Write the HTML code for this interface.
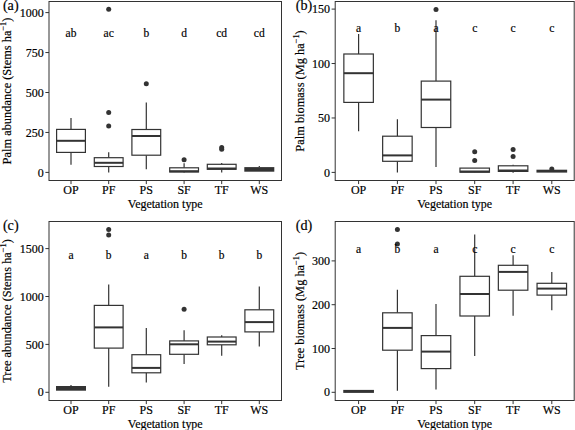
<!DOCTYPE html><html><head><meta charset="utf-8"><style>html,body{margin:0;padding:0;background:#fff;overflow:hidden;}svg{display:block;}text{font-family:"Liberation Serif",serif;fill:#000;stroke:#000;stroke-width:0.18px;}</style></head><body>
<svg width="575" height="430" viewBox="0 0 575 430">
<rect width="575" height="430" fill="#fff"/>
<line x1="71.0" y1="118.0" x2="71.0" y2="129.4" stroke="#333333" stroke-width="1.2"/>
<line x1="71.0" y1="152.4" x2="71.0" y2="164.8" stroke="#333333" stroke-width="1.2"/>
<rect x="56.60" y="129.4" width="28.80" height="23.00" fill="#fff" stroke="#333333" stroke-width="1.2"/>
<line x1="56.60" y1="140.8" x2="85.40" y2="140.8" stroke="#333333" stroke-width="2.0"/>
<line x1="108.7" y1="152.3" x2="108.7" y2="157.7" stroke="#333333" stroke-width="1.2"/>
<line x1="108.7" y1="166.5" x2="108.7" y2="172.4" stroke="#333333" stroke-width="1.2"/>
<rect x="94.30" y="157.7" width="28.80" height="8.80" fill="#fff" stroke="#333333" stroke-width="1.2"/>
<line x1="94.30" y1="162.8" x2="123.10" y2="162.8" stroke="#333333" stroke-width="2.0"/>
<circle cx="108.7" cy="126.1" r="2.5" fill="#333333"/>
<circle cx="108.7" cy="112.5" r="2.5" fill="#333333"/>
<circle cx="108.7" cy="9.2" r="2.5" fill="#333333"/>
<line x1="146.3" y1="102.4" x2="146.3" y2="129.5" stroke="#333333" stroke-width="1.2"/>
<line x1="146.3" y1="155.2" x2="146.3" y2="169.3" stroke="#333333" stroke-width="1.2"/>
<rect x="131.90" y="129.5" width="28.80" height="25.70" fill="#fff" stroke="#333333" stroke-width="1.2"/>
<line x1="131.90" y1="136.0" x2="160.70" y2="136.0" stroke="#333333" stroke-width="2.0"/>
<circle cx="146.3" cy="83.7" r="2.5" fill="#333333"/>
<line x1="184.1" y1="163.2" x2="184.1" y2="167.8" stroke="#333333" stroke-width="1.2"/>
<line x1="184.1" y1="172.0" x2="184.1" y2="172.4" stroke="#333333" stroke-width="1.2"/>
<rect x="169.70" y="167.8" width="28.80" height="4.20" fill="#fff" stroke="#333333" stroke-width="1.2"/>
<line x1="169.70" y1="171.2" x2="198.50" y2="171.2" stroke="#333333" stroke-width="2.0"/>
<circle cx="184.1" cy="159.7" r="2.5" fill="#333333"/>
<line x1="221.7" y1="162.9" x2="221.7" y2="164.3" stroke="#333333" stroke-width="1.2"/>
<line x1="221.7" y1="169.3" x2="221.7" y2="172.5" stroke="#333333" stroke-width="1.2"/>
<rect x="207.30" y="164.3" width="28.80" height="5.00" fill="#fff" stroke="#333333" stroke-width="1.2"/>
<line x1="207.30" y1="168.5" x2="236.10" y2="168.5" stroke="#333333" stroke-width="2.0"/>
<circle cx="221.7" cy="147.4" r="2.5" fill="#333333"/>
<circle cx="221.7" cy="149.2" r="2.5" fill="#333333"/>
<line x1="259.3" y1="165.9" x2="259.3" y2="167.1" stroke="#333333" stroke-width="1.2"/>
<rect x="244.30" y="167.1" width="30.00" height="4.60" fill="#333333"/>
<text x="71.0" y="36.9" font-size="11.5" text-anchor="middle">ab</text>
<text x="108.7" y="36.9" font-size="11.5" text-anchor="middle">ac</text>
<text x="146.3" y="36.9" font-size="11.5" text-anchor="middle">b</text>
<text x="184.1" y="36.9" font-size="11.5" text-anchor="middle">d</text>
<text x="221.7" y="36.9" font-size="11.5" text-anchor="middle">cd</text>
<text x="259.3" y="36.9" font-size="11.5" text-anchor="middle">cd</text>
<rect x="49" y="1.5" width="232.50" height="179.00" fill="none" stroke="#333333" stroke-width="1"/>
<line x1="45.4" y1="172.4" x2="49" y2="172.4" stroke="#333333" stroke-width="1"/>
<text x="43.8" y="176.5" font-size="12" text-anchor="end">0</text>
<line x1="45.4" y1="132.45" x2="49" y2="132.45" stroke="#333333" stroke-width="1"/>
<text x="43.8" y="136.54999999999998" font-size="12" text-anchor="end">250</text>
<line x1="45.4" y1="92.5" x2="49" y2="92.5" stroke="#333333" stroke-width="1"/>
<text x="43.8" y="96.6" font-size="12" text-anchor="end">500</text>
<line x1="45.4" y1="52.55" x2="49" y2="52.55" stroke="#333333" stroke-width="1"/>
<text x="43.8" y="56.65" font-size="12" text-anchor="end">750</text>
<line x1="45.4" y1="12.6" x2="49" y2="12.6" stroke="#333333" stroke-width="1"/>
<text x="43.8" y="16.7" font-size="12" text-anchor="end">1000</text>
<line x1="71.0" y1="180.5" x2="71.0" y2="184.1" stroke="#333333" stroke-width="1"/>
<text x="71.0" y="194.4" font-size="12" text-anchor="middle">OP</text>
<line x1="108.7" y1="180.5" x2="108.7" y2="184.1" stroke="#333333" stroke-width="1"/>
<text x="108.7" y="194.4" font-size="12" text-anchor="middle">PF</text>
<line x1="146.3" y1="180.5" x2="146.3" y2="184.1" stroke="#333333" stroke-width="1"/>
<text x="146.3" y="194.4" font-size="12" text-anchor="middle">PS</text>
<line x1="184.1" y1="180.5" x2="184.1" y2="184.1" stroke="#333333" stroke-width="1"/>
<text x="184.1" y="194.4" font-size="12" text-anchor="middle">SF</text>
<line x1="221.7" y1="180.5" x2="221.7" y2="184.1" stroke="#333333" stroke-width="1"/>
<text x="221.7" y="194.4" font-size="12" text-anchor="middle">TF</text>
<line x1="259.3" y1="180.5" x2="259.3" y2="184.1" stroke="#333333" stroke-width="1"/>
<text x="259.3" y="194.4" font-size="12" text-anchor="middle">WS</text>
<text transform="translate(165.25,207.50) scale(1,1.08)" font-size="12" text-anchor="middle">Vegetation type</text>
<text transform="translate(11.0,91.00) rotate(-90)" font-size="12.4" text-anchor="middle">Palm abundance (Stems ha<tspan font-size="8.3" dy="-5.5">−1</tspan><tspan dy="5.5">)</tspan></text>
<text x="2.9" y="9.8" font-size="14.2">(a)</text>
<line x1="358.6" y1="34.1" x2="358.6" y2="54.0" stroke="#333333" stroke-width="1.2"/>
<line x1="358.6" y1="102.4" x2="358.6" y2="131.2" stroke="#333333" stroke-width="1.2"/>
<rect x="343.85" y="54.0" width="29.50" height="48.40" fill="#fff" stroke="#333333" stroke-width="1.2"/>
<line x1="343.85" y1="73.2" x2="373.35" y2="73.2" stroke="#333333" stroke-width="2.0"/>
<line x1="397.4" y1="119.2" x2="397.4" y2="136.2" stroke="#333333" stroke-width="1.2"/>
<line x1="397.4" y1="161.3" x2="397.4" y2="172.5" stroke="#333333" stroke-width="1.2"/>
<rect x="382.65" y="136.2" width="29.50" height="25.10" fill="#fff" stroke="#333333" stroke-width="1.2"/>
<line x1="382.65" y1="155.4" x2="412.15" y2="155.4" stroke="#333333" stroke-width="2.0"/>
<line x1="436.0" y1="20.3" x2="436.0" y2="81.1" stroke="#333333" stroke-width="1.2"/>
<line x1="436.0" y1="127.5" x2="436.0" y2="166.9" stroke="#333333" stroke-width="1.2"/>
<rect x="421.25" y="81.1" width="29.50" height="46.40" fill="#fff" stroke="#333333" stroke-width="1.2"/>
<line x1="421.25" y1="99.6" x2="450.75" y2="99.6" stroke="#333333" stroke-width="2.0"/>
<circle cx="436.0" cy="9.4" r="2.5" fill="#333333"/>
<line x1="474.7" y1="168.1" x2="474.7" y2="168.1" stroke="#333333" stroke-width="1.2"/>
<line x1="474.7" y1="172.2" x2="474.7" y2="172.4" stroke="#333333" stroke-width="1.2"/>
<rect x="459.95" y="168.1" width="29.50" height="4.10" fill="#fff" stroke="#333333" stroke-width="1.2"/>
<line x1="459.95" y1="171.5" x2="489.45" y2="171.5" stroke="#333333" stroke-width="2.0"/>
<circle cx="474.7" cy="151.8" r="2.5" fill="#333333"/>
<circle cx="474.7" cy="160.6" r="2.5" fill="#333333"/>
<line x1="513.1" y1="164.8" x2="513.1" y2="165.8" stroke="#333333" stroke-width="1.2"/>
<line x1="513.1" y1="171.4" x2="513.1" y2="172.7" stroke="#333333" stroke-width="1.2"/>
<rect x="498.35" y="165.8" width="29.50" height="5.60" fill="#fff" stroke="#333333" stroke-width="1.2"/>
<line x1="498.35" y1="170.5" x2="527.85" y2="170.5" stroke="#333333" stroke-width="2.0"/>
<circle cx="513.1" cy="149.5" r="2.5" fill="#333333"/>
<circle cx="513.1" cy="156.4" r="2.5" fill="#333333"/>
<line x1="551.8" y1="169.7" x2="551.8" y2="169.7" stroke="#333333" stroke-width="1.2"/>
<rect x="536.45" y="169.7" width="30.70" height="2.90" fill="#333333"/>
<circle cx="551.8" cy="168.9" r="2.5" fill="#333333"/>
<text x="358.6" y="31.7" font-size="11.5" text-anchor="middle">a</text>
<text x="397.4" y="31.7" font-size="11.5" text-anchor="middle">b</text>
<text x="436.0" y="31.7" font-size="11.5" text-anchor="middle">a</text>
<text x="474.7" y="31.7" font-size="11.5" text-anchor="middle">c</text>
<text x="513.1" y="31.7" font-size="11.5" text-anchor="middle">c</text>
<text x="551.8" y="31.7" font-size="11.5" text-anchor="middle">c</text>
<rect x="335.2" y="1.5" width="239.00" height="179.00" fill="none" stroke="#333333" stroke-width="1"/>
<line x1="331.59999999999997" y1="172.4" x2="335.2" y2="172.4" stroke="#333333" stroke-width="1"/>
<text x="330.0" y="176.5" font-size="12" text-anchor="end">0</text>
<line x1="331.59999999999997" y1="117.97" x2="335.2" y2="117.97" stroke="#333333" stroke-width="1"/>
<text x="330.0" y="122.07" font-size="12" text-anchor="end">50</text>
<line x1="331.59999999999997" y1="63.53" x2="335.2" y2="63.53" stroke="#333333" stroke-width="1"/>
<text x="330.0" y="67.63" font-size="12" text-anchor="end">100</text>
<line x1="331.59999999999997" y1="9.1" x2="335.2" y2="9.1" stroke="#333333" stroke-width="1"/>
<text x="330.0" y="13.2" font-size="12" text-anchor="end">150</text>
<line x1="358.6" y1="180.5" x2="358.6" y2="184.1" stroke="#333333" stroke-width="1"/>
<text x="358.6" y="194.4" font-size="12" text-anchor="middle">OP</text>
<line x1="397.4" y1="180.5" x2="397.4" y2="184.1" stroke="#333333" stroke-width="1"/>
<text x="397.4" y="194.4" font-size="12" text-anchor="middle">PF</text>
<line x1="436.0" y1="180.5" x2="436.0" y2="184.1" stroke="#333333" stroke-width="1"/>
<text x="436.0" y="194.4" font-size="12" text-anchor="middle">PS</text>
<line x1="474.7" y1="180.5" x2="474.7" y2="184.1" stroke="#333333" stroke-width="1"/>
<text x="474.7" y="194.4" font-size="12" text-anchor="middle">SF</text>
<line x1="513.1" y1="180.5" x2="513.1" y2="184.1" stroke="#333333" stroke-width="1"/>
<text x="513.1" y="194.4" font-size="12" text-anchor="middle">TF</text>
<line x1="551.8" y1="180.5" x2="551.8" y2="184.1" stroke="#333333" stroke-width="1"/>
<text x="551.8" y="194.4" font-size="12" text-anchor="middle">WS</text>
<text transform="translate(454.70,207.50) scale(1,1.08)" font-size="12" text-anchor="middle">Vegetation type</text>
<text transform="translate(304.0,91.00) rotate(-90)" font-size="12.4" text-anchor="middle">Palm biomass (Mg ha<tspan font-size="8.3" dy="-5.5">−1</tspan><tspan dy="5.5">)</tspan></text>
<text x="295.8" y="9.8" font-size="14.2">(b)</text>
<line x1="71.0" y1="384.9" x2="71.0" y2="386.0" stroke="#333333" stroke-width="1.2"/>
<rect x="56.00" y="386.0" width="30.00" height="4.70" fill="#333333"/>
<line x1="108.7" y1="284.5" x2="108.7" y2="305.4" stroke="#333333" stroke-width="1.2"/>
<line x1="108.7" y1="348.1" x2="108.7" y2="386.7" stroke="#333333" stroke-width="1.2"/>
<rect x="94.30" y="305.4" width="28.80" height="42.70" fill="#fff" stroke="#333333" stroke-width="1.2"/>
<line x1="94.30" y1="327.4" x2="123.10" y2="327.4" stroke="#333333" stroke-width="2.0"/>
<circle cx="108.7" cy="229.4" r="2.5" fill="#333333"/>
<circle cx="108.7" cy="235.1" r="2.5" fill="#333333"/>
<line x1="146.3" y1="327.9" x2="146.3" y2="354.7" stroke="#333333" stroke-width="1.2"/>
<line x1="146.3" y1="372.8" x2="146.3" y2="382.6" stroke="#333333" stroke-width="1.2"/>
<rect x="131.90" y="354.7" width="28.80" height="18.10" fill="#fff" stroke="#333333" stroke-width="1.2"/>
<line x1="131.90" y1="367.9" x2="160.70" y2="367.9" stroke="#333333" stroke-width="2.0"/>
<line x1="184.1" y1="330.2" x2="184.1" y2="340.9" stroke="#333333" stroke-width="1.2"/>
<line x1="184.1" y1="354.3" x2="184.1" y2="364.0" stroke="#333333" stroke-width="1.2"/>
<rect x="169.70" y="340.9" width="28.80" height="13.40" fill="#fff" stroke="#333333" stroke-width="1.2"/>
<line x1="169.70" y1="344.3" x2="198.50" y2="344.3" stroke="#333333" stroke-width="2.0"/>
<circle cx="184.1" cy="309.3" r="2.5" fill="#333333"/>
<line x1="221.7" y1="335.3" x2="221.7" y2="337.0" stroke="#333333" stroke-width="1.2"/>
<line x1="221.7" y1="344.8" x2="221.7" y2="355.8" stroke="#333333" stroke-width="1.2"/>
<rect x="207.30" y="337.0" width="28.80" height="7.80" fill="#fff" stroke="#333333" stroke-width="1.2"/>
<line x1="207.30" y1="341.6" x2="236.10" y2="341.6" stroke="#333333" stroke-width="2.0"/>
<line x1="259.3" y1="286.6" x2="259.3" y2="309.8" stroke="#333333" stroke-width="1.2"/>
<line x1="259.3" y1="331.9" x2="259.3" y2="346.5" stroke="#333333" stroke-width="1.2"/>
<rect x="244.90" y="309.8" width="28.80" height="22.10" fill="#fff" stroke="#333333" stroke-width="1.2"/>
<line x1="244.90" y1="322.1" x2="273.70" y2="322.1" stroke="#333333" stroke-width="2.0"/>
<text x="71.0" y="259.2" font-size="11.5" text-anchor="middle">a</text>
<text x="108.7" y="259.2" font-size="11.5" text-anchor="middle">b</text>
<text x="146.3" y="259.2" font-size="11.5" text-anchor="middle">a</text>
<text x="184.1" y="259.2" font-size="11.5" text-anchor="middle">b</text>
<text x="221.7" y="259.2" font-size="11.5" text-anchor="middle">b</text>
<text x="259.3" y="259.2" font-size="11.5" text-anchor="middle">b</text>
<rect x="49" y="221.5" width="232.50" height="179.00" fill="none" stroke="#333333" stroke-width="1"/>
<line x1="45.4" y1="392.3" x2="49" y2="392.3" stroke="#333333" stroke-width="1"/>
<text x="43.8" y="396.40000000000003" font-size="12" text-anchor="end">0</text>
<line x1="45.4" y1="344.4" x2="49" y2="344.4" stroke="#333333" stroke-width="1"/>
<text x="43.8" y="348.5" font-size="12" text-anchor="end">500</text>
<line x1="45.4" y1="296.5" x2="49" y2="296.5" stroke="#333333" stroke-width="1"/>
<text x="43.8" y="300.6" font-size="12" text-anchor="end">1000</text>
<line x1="45.4" y1="248.6" x2="49" y2="248.6" stroke="#333333" stroke-width="1"/>
<text x="43.8" y="252.7" font-size="12" text-anchor="end">1500</text>
<line x1="71.0" y1="400.5" x2="71.0" y2="404.1" stroke="#333333" stroke-width="1"/>
<text x="71.0" y="414.4" font-size="12" text-anchor="middle">OP</text>
<line x1="108.7" y1="400.5" x2="108.7" y2="404.1" stroke="#333333" stroke-width="1"/>
<text x="108.7" y="414.4" font-size="12" text-anchor="middle">PF</text>
<line x1="146.3" y1="400.5" x2="146.3" y2="404.1" stroke="#333333" stroke-width="1"/>
<text x="146.3" y="414.4" font-size="12" text-anchor="middle">PS</text>
<line x1="184.1" y1="400.5" x2="184.1" y2="404.1" stroke="#333333" stroke-width="1"/>
<text x="184.1" y="414.4" font-size="12" text-anchor="middle">SF</text>
<line x1="221.7" y1="400.5" x2="221.7" y2="404.1" stroke="#333333" stroke-width="1"/>
<text x="221.7" y="414.4" font-size="12" text-anchor="middle">TF</text>
<line x1="259.3" y1="400.5" x2="259.3" y2="404.1" stroke="#333333" stroke-width="1"/>
<text x="259.3" y="414.4" font-size="12" text-anchor="middle">WS</text>
<text transform="translate(165.25,427.50) scale(1,1.08)" font-size="12" text-anchor="middle">Vegetation type</text>
<text transform="translate(11.0,311.00) rotate(-90)" font-size="12.4" text-anchor="middle">Tree abundance (Stems ha<tspan font-size="8.3" dy="-5.5">−1</tspan><tspan dy="5.5">)</tspan></text>
<text x="2.9" y="230.2" font-size="14.2">(c)</text>
<line x1="358.6" y1="389.9" x2="358.6" y2="389.9" stroke="#333333" stroke-width="1.2"/>
<rect x="343.25" y="389.9" width="30.70" height="3.00" fill="#333333"/>
<line x1="397.4" y1="289.7" x2="397.4" y2="312.8" stroke="#333333" stroke-width="1.2"/>
<line x1="397.4" y1="350.2" x2="397.4" y2="390.7" stroke="#333333" stroke-width="1.2"/>
<rect x="382.65" y="312.8" width="29.50" height="37.40" fill="#fff" stroke="#333333" stroke-width="1.2"/>
<line x1="382.65" y1="327.9" x2="412.15" y2="327.9" stroke="#333333" stroke-width="2.0"/>
<circle cx="397.4" cy="229.4" r="2.5" fill="#333333"/>
<circle cx="397.4" cy="244.1" r="2.5" fill="#333333"/>
<line x1="436.0" y1="304.0" x2="436.0" y2="335.6" stroke="#333333" stroke-width="1.2"/>
<line x1="436.0" y1="368.6" x2="436.0" y2="389.5" stroke="#333333" stroke-width="1.2"/>
<rect x="421.25" y="335.6" width="29.50" height="33.00" fill="#fff" stroke="#333333" stroke-width="1.2"/>
<line x1="421.25" y1="351.6" x2="450.75" y2="351.6" stroke="#333333" stroke-width="2.0"/>
<line x1="474.7" y1="234.4" x2="474.7" y2="276.3" stroke="#333333" stroke-width="1.2"/>
<line x1="474.7" y1="316.0" x2="474.7" y2="355.9" stroke="#333333" stroke-width="1.2"/>
<rect x="459.95" y="276.3" width="29.50" height="39.70" fill="#fff" stroke="#333333" stroke-width="1.2"/>
<line x1="459.95" y1="294.0" x2="489.45" y2="294.0" stroke="#333333" stroke-width="2.0"/>
<line x1="513.1" y1="255.3" x2="513.1" y2="265.3" stroke="#333333" stroke-width="1.2"/>
<line x1="513.1" y1="290.2" x2="513.1" y2="315.8" stroke="#333333" stroke-width="1.2"/>
<rect x="498.35" y="265.3" width="29.50" height="24.90" fill="#fff" stroke="#333333" stroke-width="1.2"/>
<line x1="498.35" y1="271.9" x2="527.85" y2="271.9" stroke="#333333" stroke-width="2.0"/>
<line x1="551.8" y1="271.9" x2="551.8" y2="283.3" stroke="#333333" stroke-width="1.2"/>
<line x1="551.8" y1="295.1" x2="551.8" y2="310.2" stroke="#333333" stroke-width="1.2"/>
<rect x="537.05" y="283.3" width="29.50" height="11.80" fill="#fff" stroke="#333333" stroke-width="1.2"/>
<line x1="537.05" y1="288.6" x2="566.55" y2="288.6" stroke="#333333" stroke-width="2.0"/>
<text x="358.6" y="253.1" font-size="11.5" text-anchor="middle">a</text>
<text x="397.4" y="253.1" font-size="11.5" text-anchor="middle">b</text>
<text x="436.0" y="253.1" font-size="11.5" text-anchor="middle">a</text>
<text x="474.7" y="253.1" font-size="11.5" text-anchor="middle">c</text>
<text x="513.1" y="253.1" font-size="11.5" text-anchor="middle">c</text>
<text x="551.8" y="253.1" font-size="11.5" text-anchor="middle">c</text>
<rect x="335.2" y="221.5" width="239.00" height="179.00" fill="none" stroke="#333333" stroke-width="1"/>
<line x1="331.59999999999997" y1="392.3" x2="335.2" y2="392.3" stroke="#333333" stroke-width="1"/>
<text x="330.0" y="396.40000000000003" font-size="12" text-anchor="end">0</text>
<line x1="331.59999999999997" y1="348.5" x2="335.2" y2="348.5" stroke="#333333" stroke-width="1"/>
<text x="330.0" y="352.6" font-size="12" text-anchor="end">100</text>
<line x1="331.59999999999997" y1="304.7" x2="335.2" y2="304.7" stroke="#333333" stroke-width="1"/>
<text x="330.0" y="308.8" font-size="12" text-anchor="end">200</text>
<line x1="331.59999999999997" y1="260.9" x2="335.2" y2="260.9" stroke="#333333" stroke-width="1"/>
<text x="330.0" y="265.0" font-size="12" text-anchor="end">300</text>
<line x1="358.6" y1="400.5" x2="358.6" y2="404.1" stroke="#333333" stroke-width="1"/>
<text x="358.6" y="414.4" font-size="12" text-anchor="middle">OP</text>
<line x1="397.4" y1="400.5" x2="397.4" y2="404.1" stroke="#333333" stroke-width="1"/>
<text x="397.4" y="414.4" font-size="12" text-anchor="middle">PF</text>
<line x1="436.0" y1="400.5" x2="436.0" y2="404.1" stroke="#333333" stroke-width="1"/>
<text x="436.0" y="414.4" font-size="12" text-anchor="middle">PS</text>
<line x1="474.7" y1="400.5" x2="474.7" y2="404.1" stroke="#333333" stroke-width="1"/>
<text x="474.7" y="414.4" font-size="12" text-anchor="middle">SF</text>
<line x1="513.1" y1="400.5" x2="513.1" y2="404.1" stroke="#333333" stroke-width="1"/>
<text x="513.1" y="414.4" font-size="12" text-anchor="middle">TF</text>
<line x1="551.8" y1="400.5" x2="551.8" y2="404.1" stroke="#333333" stroke-width="1"/>
<text x="551.8" y="414.4" font-size="12" text-anchor="middle">WS</text>
<text transform="translate(454.70,427.50) scale(1,1.08)" font-size="12" text-anchor="middle">Vegetation type</text>
<text transform="translate(304.0,311.00) rotate(-90)" font-size="12.4" text-anchor="middle">Tree biomass (Mg ha<tspan font-size="8.3" dy="-5.5">−1</tspan><tspan dy="5.5">)</tspan></text>
<text x="295.8" y="230.2" font-size="14.2">(d)</text>
</svg></body></html>
